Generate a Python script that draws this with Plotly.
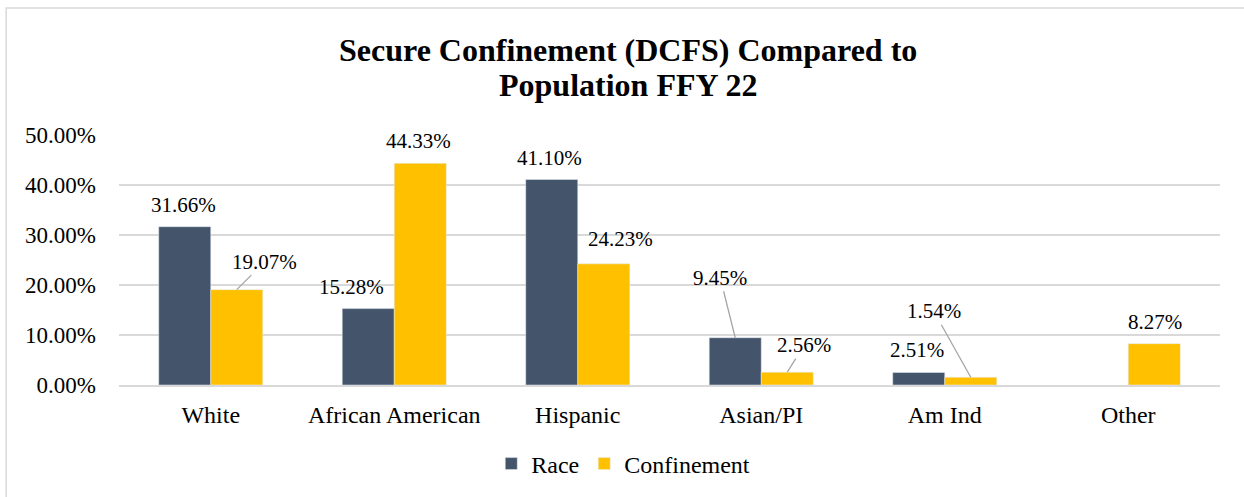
import plotly.graph_objects as go

categories = ["White", "African American", "Hispanic", "Asian/PI", "Am Ind", "Other"]
race = [31.66, 15.28, 41.10, 9.45, 2.51, None]
confinement = [19.07, 44.33, 24.23, 2.56, 1.54, 8.27]
y_ticks = [0, 10, 20, 30, 40, 50]
y_tick_labels = ["0.00%", "10.00%", "20.00%", "30.00%", "40.00%", "50.00%"]
title_lines = ["Secure Confinement (DCFS) Compared to", "Population FFY 22"]

RACE_COLOR = "#44546A"
CONF_COLOR = "#FFC000"
FONT = "Liberation Serif, Times New Roman, serif"
GRID = "#D9D9D9"
BARGAP = 0.433

# label placement: (mode, dx, dy) in pixels; mode 'a' = leader line
race_lbl = [("t", -1, 22), ("t", -17, 22), ("t", -2, 22), ("a", -15, -60), ("t", -2, 22), None]
conf_lbl = [("a", 28, -28), ("t", -2, 22), ("t", 17, 25), ("a", 17, -27), ("a", -37, -66), ("t", 1, 22)]

fig = go.Figure()
fig.add_trace(go.Bar(name="Race", x=categories, y=race, marker_color=RACE_COLOR))
fig.add_trace(go.Bar(name="Confinement", x=categories, y=confinement, marker_color=CONF_COLOR))

half = (1 - BARGAP) / 4
annotations = []
for series, lbls, off in ((race, race_lbl, -half), (confinement, conf_lbl, half)):
    for i, (v, lb) in enumerate(zip(series, lbls)):
        if v is None or lb is None:
            continue
        mode, dx, dy = lb
        text = f"{v:.2f}%"
        if mode == "t":
            annotations.append(dict(x=i + off, y=v, xref="x", yref="y", text=text,
                                    showarrow=False, xshift=dx, yshift=dy,
                                    xanchor="center", yanchor="middle",
                                    font=dict(family=FONT, size=21, color="#000")))
        else:
            annotations.append(dict(x=i + off, y=v, xref="x", yref="y", text=text,
                                    showarrow=True, ax=dx, ay=dy, axref="pixel", ayref="pixel",
                                    arrowhead=0, arrowwidth=1.3, arrowcolor="#A6A6A6",
                                    font=dict(family=FONT, size=21, color="#000")))

for line, ypos in zip(title_lines, (1.34, 1.20)):
    annotations.append(dict(x=0.462, y=ypos, xref="paper", yref="paper",
                            text=f"<b>{line}</b>",
                            showarrow=False, xanchor="center", yanchor="middle",
                            font=dict(family=FONT, size=32, color="#000")))

fig.update_layout(
    width=1244, height=497,
    margin=dict(l=119, r=24, t=135, b=112, autoexpand=False),
    paper_bgcolor="white", plot_bgcolor="white",
    barmode="group", bargap=BARGAP, bargroupgap=0,
    font=dict(family=FONT, size=23, color="#000"),
    showlegend=True,
    legend=dict(orientation="h", x=0.458, xanchor="center", y=-0.316, yanchor="middle",
                font=dict(family=FONT, size=24, color="#000"), traceorder="normal"),
    annotations=annotations,
    shapes=[dict(type="rect", xref="paper", yref="paper", x0=-0.1025, x1=1.03, y0=-0.5, y1=1.508,
                 line=dict(color=GRID, width=1.5), fillcolor="rgba(0,0,0,0)", layer="below")],
)
fig.update_yaxes(range=[0, 50], tickvals=y_ticks, ticktext=y_tick_labels, showgrid=True,
                 gridcolor=GRID, gridwidth=1.5, zeroline=False, showline=False,
                 ticklabelstandoff=22, tickfont=dict(family=FONT, size=23, color="#000"))
fig.update_xaxes(showgrid=False, showline=True, linecolor=GRID, linewidth=1.5,
                 ticks="", ticklabelstandoff=7, tickfont=dict(family=FONT, size=24, color="#000"))

fig.write_html("out.html", config={"displayModeBar": False},
               post_script="document.body.style.margin='0';document.body.style.overflow='hidden';")
